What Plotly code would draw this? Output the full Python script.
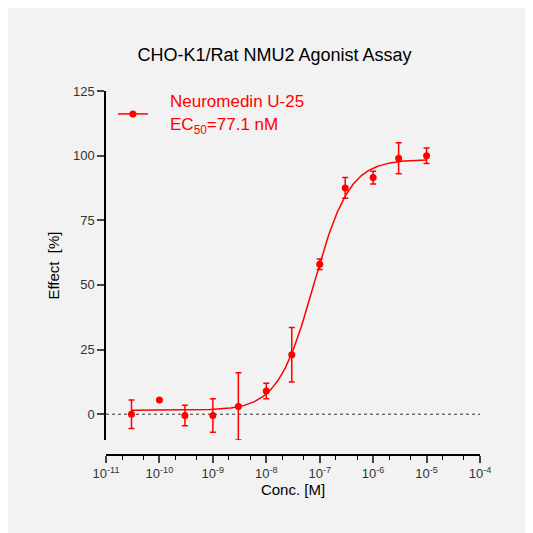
import numpy as np
import plotly.graph_objects as go

conc = [3e-11, 1e-10, 3e-10, 1e-9, 3e-9, 1e-8, 3e-8, 1e-7, 3e-7, 1e-6, 3e-6, 1e-5]
effect = [0, 5.5, -0.5, -0.5, 3, 9, 23, 58, 87.5, 91.5, 99, 100]
err = [5.5, 0, 4, 6.5, 13, 3, 10.5, 2, 4, 2.5, 6, 3]
fit_bottom, fit_top, ec50, hill = 1.5, 98.5, 77.1e-9, 1.3
xticks = [1e-11, 1e-10, 1e-9, 1e-8, 1e-7, 1e-6, 1e-5, 1e-4]
xticklabels = ["10<sup>-11</sup>", "10<sup>-10</sup>", "10<sup>-9</sup>", "10<sup>-8</sup>",
               "10<sup>-7</sup>", "10<sup>-6</sup>", "10<sup>-5</sup>", "10<sup>-4</sup>"]

red = "#ff0000"
xc = np.logspace(np.log10(3e-11), -5, 300)
yc = fit_bottom + (fit_top - fit_bottom) / (1 + (ec50 / xc) ** hill)

fig = go.Figure()
fig.add_trace(go.Scatter(x=[1e-11, 1e-4], y=[0, 0], mode="lines",
                         line=dict(color="#333", width=1, dash="dot"), showlegend=False))
fig.add_trace(go.Scatter(x=xc, y=yc, mode="lines", line=dict(color=red, width=1.5), showlegend=False))
fig.add_trace(go.Scatter(x=conc, y=effect, mode="markers", marker=dict(color=red, size=7),
                         error_y=dict(type="data", array=err, color=red, thickness=1.5, width=3),
                         showlegend=False))

fig.update_layout(
    width=533, height=533,
    margin=dict(l=98, r=61, t=83, b=86),
    paper_bgcolor="#f2f2f2", plot_bgcolor="#f2f2f2",
    font=dict(family="Liberation Sans, Arial", color="#000"),
    title=dict(text="CHO-K1/Rat NMU2 Agonist Assay", x=0.5, xanchor="center", y=0.912, yanchor="middle",
               font=dict(size=18)),
    xaxis=dict(type="log", range=[-11, -4], anchor="free", position=0,
               tickvals=xticks, ticktext=xticklabels, ticks="outside", ticklen=7, tickwidth=1.5,
               showline=True, linecolor="#000", linewidth=1.5, showgrid=False, zeroline=False,
               tickfont=dict(size=13, color="#333"),
               minor=dict(ticks="outside", ticklen=4, tickwidth=1, showgrid=False, tickcolor="#000"),
               title=dict(text="Conc. [M]", font=dict(size=15), standoff=2)),
    yaxis=dict(range=[-10, 125], domain=[0.041, 1], tickvals=[0, 25, 50, 75, 100, 125],
               ticks="outside", ticklen=7, tickwidth=1.5, showline=True, linecolor="#000", linewidth=1.5,
               showgrid=False, zeroline=False, tickfont=dict(size=13, color="#333"),
               title=dict(text="Effect  [%]", font=dict(size=15), standoff=10)),
)
fig.add_shape(type="line", xref="paper", yref="paper", x0=0.032, x1=0.112, y0=0.937, y1=0.937,
              line=dict(color=red, width=1.5))
fig.add_shape(type="circle", xref="paper", yref="paper", xsizemode="pixel", ysizemode="pixel",
              xanchor=0.072, yanchor=0.937, x0=-3.5, x1=3.5, y0=-3.5, y1=3.5,
              fillcolor=red, line=dict(width=0))
fig.add_annotation(xref="paper", yref="paper", x=0.166, y=0.970, xanchor="left", yanchor="middle",
                   text="Neuromedin U-25", showarrow=False, font=dict(size=17, color=red))
fig.add_annotation(xref="paper", yref="paper", x=0.166, y=0.904, xanchor="left", yanchor="middle",
                   text="EC<sub>50</sub>=77.1 nM", showarrow=False, font=dict(size=17, color=red))
fig.write_html("out.html")
